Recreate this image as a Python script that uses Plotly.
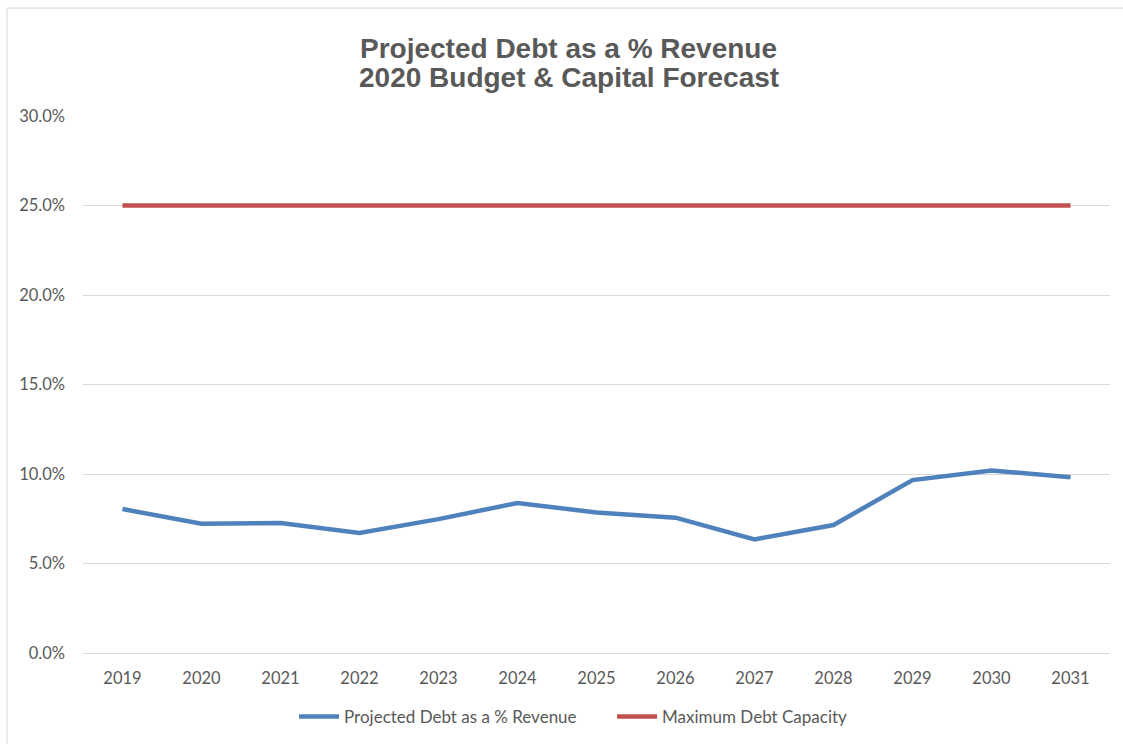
import plotly.graph_objects as go

years = [str(y) for y in range(2019, 2032)]
projected = [8.04, 7.22, 7.26, 6.70, 7.48, 8.38, 7.85, 7.56, 6.35, 7.15, 9.66, 10.20, 9.82]
max_capacity = [25.0] * 13
y_ticks = [0, 5, 10, 15, 20, 25, 30]
title_lines = ["Projected Debt as a % Revenue", "2020 Budget & Capital Forecast"]

fig = go.Figure()
fig.add_trace(go.Scatter(x=years, y=projected, mode="lines", name="Projected Debt as a % Revenue",
                         line=dict(color="#4F81BD", width=4.5)))
fig.add_trace(go.Scatter(x=years, y=max_capacity, mode="lines", name="Maximum Debt Capacity",
                         line=dict(color="#C0504D", width=4.5)))

fig.update_layout(
    width=1123, height=744,
    margin=dict(l=83, r=13, t=116, b=91, autoexpand=False),
    paper_bgcolor="white", plot_bgcolor="white",
    font=dict(family="Lato, Open Sans, sans-serif", size=16.5, color="#595959"),
    xaxis=dict(type="category", range=[-0.5, 12.5], showgrid=False, showline=False, ticks="",
               automargin=False, ticklabelstandoff=13, tickfont=dict(size=16.5, color="#595959")),
    yaxis=dict(range=[0, 30], tickvals=y_ticks, ticktext=[f"{v:.1f}%" for v in y_ticks],
               showgrid=True, gridcolor="#D9D9D9", gridwidth=1, zeroline=True,
               zerolinecolor="#D9D9D9", zerolinewidth=1,
               showline=False, ticks="", ticklabelstandoff=17, automargin=False,
               tickfont=dict(size=16.5, color="#595959")),
    legend=dict(orientation="h", x=0.2055, xanchor="left", yref="container", y=0.0363,
                yanchor="middle", font=dict(size=17, color="#595959"), itemwidth=40,
                entrywidth=263, traceorder="normal"),
    showlegend=True,
)
for text, ypos in zip(title_lines, [1.1266, 1.0717]):
    fig.add_annotation(text=text, xref="paper", yref="paper", x=0.473, y=ypos,
                       xanchor="center", yanchor="middle", showarrow=False,
                       font=dict(family="Liberation Sans, Arial", size=28, color="#595959",
                                 weight="bold"))
fig.add_shape(type="rect", xref="paper", yref="paper", x0=-0.0740, x1=1.02, y0=-0.25, y1=1.201,
              line=dict(color="#D9D9D9", width=1), fillcolor="rgba(0,0,0,0)", layer="below")
fig.write_html("out.html", config={"displayModeBar": False},
               post_script="document.body.style.margin='0';")
